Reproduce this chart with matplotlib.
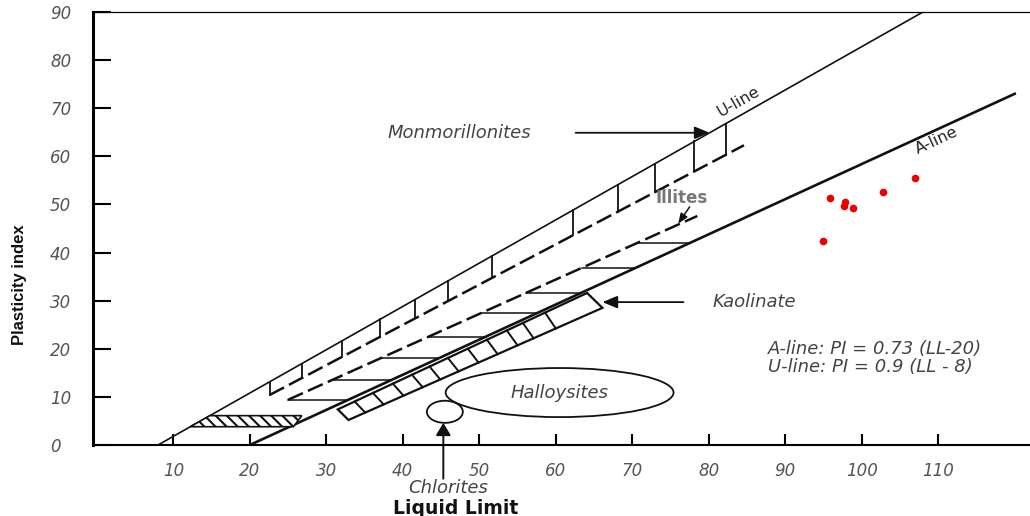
import numpy as np
import matplotlib
matplotlib.use("Agg")

import matplotlib.pyplot as plt
from matplotlib.patches import Ellipse, Polygon, FancyArrowPatch

# Casagrande lines: PI = slope * (LL - LL0)
A_SLOPE, A_LL0, A_LL_END = 0.73, 20, 120
U_SLOPE, U_LL0, U_PI_END = 0.9, 8, 90

ll_ticks = [10, 20, 30, 40, 50, 60, 70, 80, 90, 100, 110]
pi_ticks = [0, 10, 20, 30, 40, 50, 60, 70, 80, 90]

# measured soil samples
sample_ll = [94.9, 95.8, 97.8, 97.7, 98.9, 102.8, 106.9]
sample_pi = [42.5, 51.4, 50.5, 49.6, 49.3, 52.5, 55.4]

# montmorillonite zone: dashed lower edge and rungs up to the U-line
mont_ll = [22.6, 84.6]
mont_pi = [10.4, 62.3]
mont_rung_ll = [22.6, 26.8, 32.1, 37.0, 41.6, 45.9, 51.6, 62.3, 68.1, 73.0, 78.1, 82.2]

# illite zone: dashed upper edge and horizontal hatching down to the A-line
illite_ll = [25.0, 78.5]
illite_pi = [9.4, 47.6]
illite_hatch_pi = [9.4, 13.5, 18.1, 22.5, 27.4, 31.6, 36.8, 42.0]

# kaolinite band (corners) and its cross divisions
kaol_ll = [31.5, 64.1, 66.1, 32.9]
kaol_pi = [7.4, 31.6, 28.5, 5.2]
kaol_div_ll = [34.4, 36.8, 39.4, 41.9, 44.2, 46.6, 49.2, 51.7, 54.3, 56.4, 59.3]

# low plasticity hatched strip along the U-line
strip_pi = [3.8, 6.1]
strip_right_ll = [25.7, 26.8]

# halloysite and chlorite outlines: centre and size
hall_xy, hall_size = (60.5, 10.9), (29.8, 10.2)
chl_xy, chl_size = (45.5, 6.9), (4.7, 4.6)

LINE = "#111111"
GREY = "#444444"


def u_line(ll):
    return U_SLOPE * (np.asarray(ll) - U_LL0)


def a_line(ll):
    return A_SLOPE * (np.asarray(ll) - A_LL0)


plt.rcParams["hatch.linewidth"] = 1.5

fig = plt.figure(figsize=(10.3, 5.16), dpi=100)
ax = fig.add_axes([0.0903, 0.1376, 0.9097, 0.8391])
ax.set_xlim(-0.5, 122)
ax.set_ylim(0, 90)

# U-line and A-line
u_ll = np.array([U_LL0, U_PI_END / U_SLOPE + U_LL0])
ax.plot(u_ll, u_line(u_ll), color=LINE, lw=1.2)
a_ll = np.array([A_LL0, A_LL_END])
ax.plot(a_ll, a_line(a_ll), color=LINE, lw=1.9)

# montmorillonites
ax.plot(mont_ll, mont_pi, color=LINE, lw=1.8, dashes=(6.5, 2.2))
for ll in mont_rung_ll:
    ax.plot([ll, ll], [u_line(ll), np.interp(ll, mont_ll, mont_pi)], color=LINE, lw=1.3)

# illites
ax.plot(illite_ll, illite_pi, color=LINE, lw=1.8, dashes=(6.5, 2.2))
for pi in illite_hatch_pi:
    left = np.interp(pi, illite_pi, illite_ll)
    right = pi / A_SLOPE + A_LL0
    ax.plot([left, right], [pi, pi], color=LINE, lw=1.1)

# kaolinite band
ax.add_patch(Polygon(np.column_stack([kaol_ll, kaol_pi]), closed=True,
                     facecolor="white", edgecolor=LINE, lw=1.6, zorder=3))
top_slope = (kaol_pi[1] - kaol_pi[0]) / (kaol_ll[1] - kaol_ll[0])
bot_slope = (kaol_pi[2] - kaol_pi[3]) / (kaol_ll[2] - kaol_ll[3])
shift = (kaol_ll[3] - kaol_ll[0]) / 2
for ll in kaol_div_ll:
    x0, x1 = ll - shift, ll + shift
    y0 = kaol_pi[0] + top_slope * (x0 - kaol_ll[0])
    y1 = kaol_pi[3] + bot_slope * (x1 - kaol_ll[3])
    ax.plot([x0, x1], [y0, y1], color=LINE, lw=1.4, zorder=4)

# hatched strip
strip_left = [p / U_SLOPE + U_LL0 for p in strip_pi]
strip = Polygon([[strip_left[0], strip_pi[0]], [strip_right_ll[0], strip_pi[0]],
                 [strip_right_ll[1], strip_pi[1]], [strip_left[1], strip_pi[1]]],
                closed=True, facecolor="white", edgecolor=LINE, lw=1.2,
                hatch="\\\\\\", zorder=3)
ax.add_patch(strip)

# halloysites and chlorites
ax.add_patch(Ellipse(hall_xy, *hall_size, facecolor="none", edgecolor=LINE, lw=1.3))
ax.add_patch(Ellipse(chl_xy, *chl_size, facecolor="none", edgecolor=LINE, lw=1.3))

# samples
ax.plot(sample_ll, sample_pi, "o", color="#ee0000", ms=5.5, mec="none", zorder=5)

# labels and pointers
ital = dict(style="italic", color=GREY, fontsize=13)
ax.text(38.0, 64.9, "Monmorillonites", va="center", ha="left", **ital)
ax.annotate("", xy=(64.9 / U_SLOPE + U_LL0, 64.9), xytext=(62.6, 64.9),
            arrowprops=dict(arrowstyle="-|>,head_length=0.6,head_width=0.25",
                            color=LINE, lw=1.3, mutation_scale=15,
                            shrinkA=0, shrinkB=0))
ax.text(73.0, 51.4, "Illites", va="center", ha="left", color="#777777",
        fontsize=12, fontweight="bold")
ax.annotate("", xy=(76.0, 46.0), xytext=(77.5, 49.5),
            arrowprops=dict(arrowstyle="-|>,head_length=0.5,head_width=0.2",
                            color=LINE, lw=1.1, mutation_scale=12,
                            shrinkA=0, shrinkB=0))
ax.text(80.5, 29.7, "Kaolinate", va="center", ha="left", **ital)
ax.annotate("", xy=(kaol_ll[2], 29.7), xytext=(76.7, 29.7),
            arrowprops=dict(arrowstyle="-|>,head_length=0.6,head_width=0.25",
                            color=LINE, lw=1.3, mutation_scale=15,
                            shrinkA=0, shrinkB=0))
ax.text(hall_xy[0], hall_xy[1], "Halloysites", va="center", ha="center", **ital)

arrow = FancyArrowPatch((45.3, -7.0), (45.3, chl_xy[1] - chl_size[1] / 2),
                        arrowstyle="-|>,head_length=0.5,head_width=0.3",
                        mutation_scale=15, color=LINE, lw=1.4,
                        shrinkA=0, shrinkB=0, clip_on=False)
ax.add_patch(arrow)
ax.text(45.9, -8.9, "Chlorites", va="center", ha="center", clip_on=False, **ital)
ax.text(46.9, -13.1, "Liquid Limit", va="center", ha="center", fontsize=13.5,
        fontweight="bold", color="#111111", clip_on=False)

ax.text(87.7, 20.0, "A-line: PI = 0.73 (LL-20)", va="center", ha="left",
        style="italic", color=GREY, fontsize=13)
ax.text(87.7, 16.2, "U-line: PI = 0.9 (LL - 8)", va="center", ha="left",
        style="italic", color=GREY, fontsize=13)

# line names, rotated along their lines
u_lab = (83.9, float(u_line(83.9)) + 3.0)
u_rot = ax.transData.transform_angles(np.array([np.degrees(np.arctan(U_SLOPE))]),
                                      np.array([u_lab]))[0]
ax.text(*u_lab, "U-line", rotation=u_rot, rotation_mode="anchor", ha="center",
        va="center", fontsize=11.5, color="#222222")
a_lab = (109.8, float(a_line(109.8)) - 2.2)
a_rot = ax.transData.transform_angles(np.array([np.degrees(np.arctan(A_SLOPE))]),
                                      np.array([a_lab]))[0]
ax.text(*a_lab, "A-line", rotation=a_rot, rotation_mode="anchor", ha="center",
        va="center", fontsize=11.5, color="#222222")

# axes styling
ax.set_xticks(ll_ticks)
ax.set_yticks(pi_ticks)
ax.tick_params(axis="x", direction="in", length=8, width=1.5, pad=12,
               labelsize=12, labelcolor="#555555")
ax.tick_params(axis="y", direction="in", length=13, width=1.5, pad=31,
               labelsize=12, labelcolor="#555555")
for lab in ax.get_xticklabels() + ax.get_yticklabels():
    lab.set_style("italic")
for lab in ax.get_yticklabels():
    lab.set_ha("left")
ax.spines["right"].set_visible(False)
ax.spines["left"].set_linewidth(2.2)
ax.spines["bottom"].set_linewidth(1.5)
ax.spines["top"].set_linewidth(0.9)

fig.text(20 / 1030, 1 - 285 / 516, "Plasticity index", rotation=90, ha="center",
         va="center", fontsize=12, fontweight="bold", color="#111111",
         family=["Liberation Sans", "DejaVu Sans"])

fig.savefig("out.png", dpi=100)
plt.close(fig)
